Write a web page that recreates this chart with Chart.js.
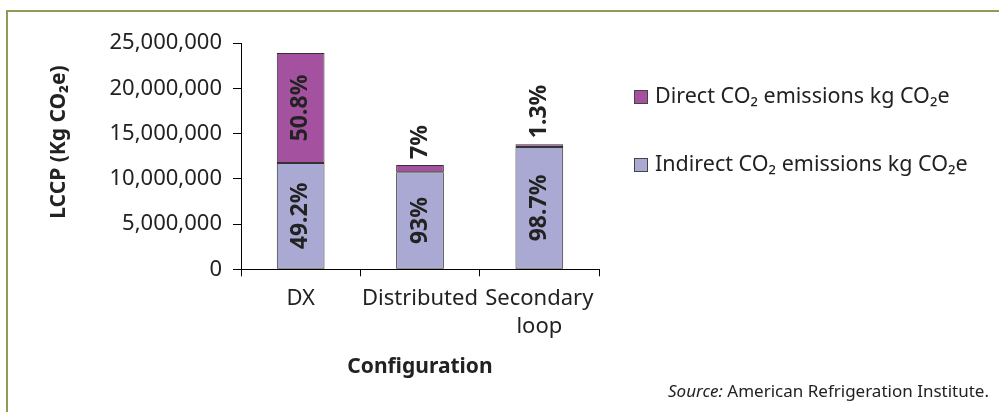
<!DOCTYPE html>
<html>
<head>
<meta charset="utf-8">
<script src="https://cdn.jsdelivr.net/npm/chart.js@4.4.1/dist/chart.umd.min.js"></script>
<style>
  body { margin: 0; background: #fff; }
  canvas { display: block; }
</style>
</head>
<body>
<canvas id="lccpChart" width="999" height="412"></canvas>
<script>
// data
const categories = ['DX', 'Distributed', ['Secondary', 'loop']];
const indirectValues = [11750000, 10720000, 13500000];
const directValues = [12150000, 810000, 320000];
const indirectShares = ['49.2%', '93%', '98.7%'];
const directShares = ['50.8%', '7%', '1.3%'];
const yTickValues = [0, 5000000, 10000000, 15000000, 20000000, 25000000];

const FONT = '"Noto Sans", sans-serif';
const INK = '#222';

// frame, axis title, legend and source line
const decor = {
  id: 'decor',
  beforeDraw(chart) {
    const ctx = chart.ctx;
    ctx.save();
    ctx.fillStyle = '#fff';
    ctx.fillRect(0, 0, chart.width, chart.height);
    ctx.strokeStyle = '#909c55';
    ctx.lineWidth = 2;
    ctx.beginPath();
    ctx.moveTo(7, chart.height);
    ctx.lineTo(7, 11);
    ctx.lineTo(chart.width, 11);
    ctx.stroke();
    ctx.restore();
  },
  afterDraw(chart) {
    const ctx = chart.ctx;
    ctx.save();
    ctx.fillStyle = INK;

    // y axis title
    ctx.save();
    ctx.translate(59, 142);
    ctx.rotate(-Math.PI / 2);
    ctx.font = 'bold 21px ' + FONT;
    ctx.textAlign = 'center';
    ctx.textBaseline = 'middle';
    ctx.fillText('LCCP (Kg CO₂e)', 0, 0);
    ctx.restore();

    // legend, top item is the last dataset
    const sets = chart.data.datasets.slice().reverse();
    ctx.font = '21.5px ' + FONT;
    ctx.textBaseline = 'middle';
    ctx.textAlign = 'left';
    sets.forEach((ds, i) => {
      const cy = 97 + i * 68;
      ctx.fillStyle = ds.backgroundColor;
      ctx.fillRect(634, cy - 7, 14, 14);
      ctx.strokeStyle = '#444';
      ctx.lineWidth = 1;
      ctx.strokeRect(634.5, cy - 6.5, 13, 13);
      ctx.fillStyle = INK;
      ctx.fillText(ds.label, 655, cy);
    });

    // source
    ctx.font = '17px ' + FONT;
    ctx.textAlign = 'right';
    const rest = ' American Refrigeration Institute.';
    ctx.fillText(rest, 989, 392);
    const restW = ctx.measureText(rest).width;
    ctx.font = 'italic 17px ' + FONT;
    ctx.fillText('Source:', 989 - restW, 392);
    ctx.restore();
  }
};

// rotated percentage labels on the bars
const shareLabels = {
  id: 'shareLabels',
  afterDatasetsDraw(chart) {
    const ctx = chart.ctx;
    ctx.save();
    ctx.font = 'bold 23px ' + FONT;
    ctx.fillStyle = INK;
    ctx.textBaseline = 'middle';
    [indirectShares, directShares].forEach((shares, di) => {
      chart.getDatasetMeta(di).data.forEach((bar, i) => {
        const h = Math.abs(bar.base - bar.y);
        const w = ctx.measureText(shares[i]).width;
        ctx.save();
        if (w + 10 < h) {
          ctx.translate(bar.x, (bar.y + bar.base) / 2);
          ctx.textAlign = 'center';
        } else {
          ctx.translate(bar.x, bar.y - 6);
          ctx.textAlign = 'left';
        }
        ctx.rotate(-Math.PI / 2);
        ctx.fillText(shares[i], 0, 0);
        ctx.restore();
      });
    });
    ctx.restore();
  }
};

new Chart(document.getElementById('lccpChart'), {
  type: 'bar',
  data: {
    labels: categories,
    datasets: [
      {
        label: 'Indirect CO₂ emissions kg CO₂e',
        data: indirectValues,
        backgroundColor: '#a9a9d4',
        borderColor: '#333',
        borderWidth: 1,
        borderSkipped: false,
        barPercentage: 0.8,
        categoryPercentage: 0.5
      },
      {
        label: 'Direct CO₂ emissions kg CO₂e',
        data: directValues,
        backgroundColor: '#a4519f',
        borderColor: '#333',
        borderWidth: 1,
        borderSkipped: false,
        barPercentage: 0.8,
        categoryPercentage: 0.5
      }
    ]
  },
  options: {
    responsive: false,
    animation: false,
    layout: { padding: { top: 43, right: 400, bottom: 0, left: 0 } },
    plugins: {
      legend: { display: false },
      tooltip: { enabled: false }
    },
    scales: {
      x: {
        stacked: true,
        grid: { drawOnChartArea: false, tickLength: 7, color: '#000' },
        border: { color: '#000' },
        ticks: {
          color: INK,
          padding: 8,
          autoSkip: false,
          maxRotation: 0,
          minRotation: 0,
          font: { family: FONT, size: 22, lineHeight: 1.3 }
        },
        title: {
          display: true,
          text: 'Configuration',
          color: INK,
          font: { family: FONT, size: 21, weight: 'bold' },
          padding: { top: 0, bottom: 32 }
        },
        afterFit(scale) { scale.height = 142.7; }
      },
      y: {
        stacked: true,
        min: 0,
        max: 25000000,
        grid: { drawOnChartArea: false, tickLength: 8, color: '#000' },
        border: { color: '#000' },
        afterBuildTicks(scale) { scale.ticks = yTickValues.map(v => ({ value: v })); },
        ticks: {
          color: INK,
          padding: 11,
          font: { family: FONT, size: 22 },
          callback: v => v.toLocaleString('en-US')
        },
        afterFit(scale) { scale.width = 241; }
      }
    }
  },
  plugins: [decor, shareLabels]
});
</script>
</body>
</html>
